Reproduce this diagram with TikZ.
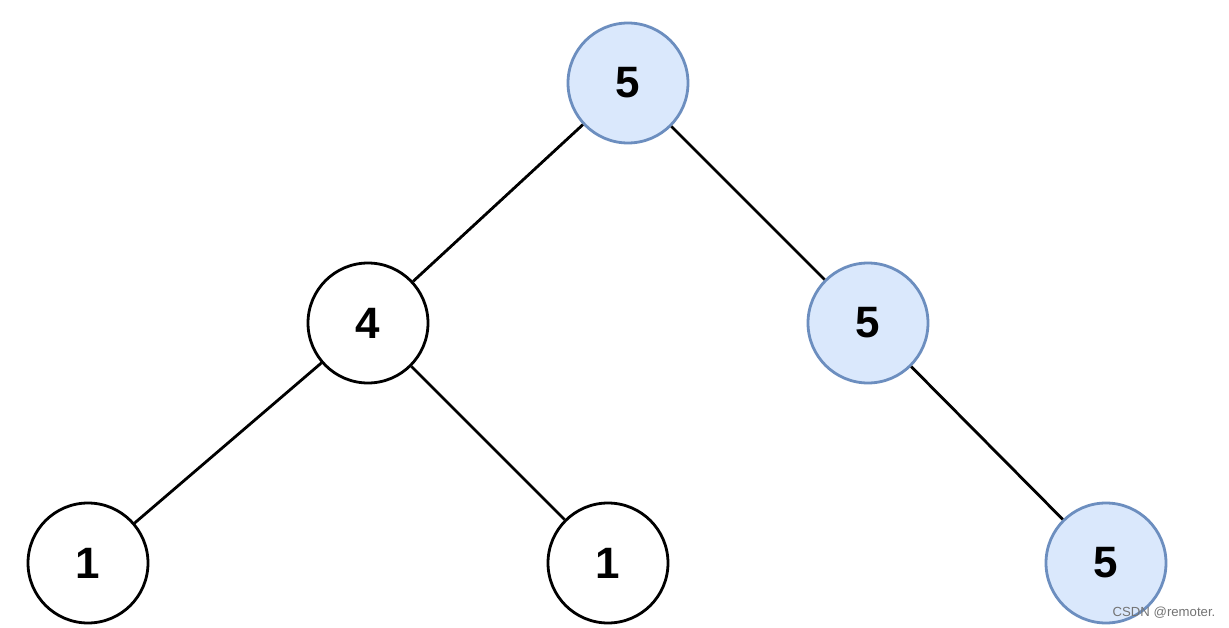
\documentclass[tikz,border=0pt]{standalone}
\usepackage{fontspec}
\setmainfont{Liberation Sans}
\definecolor{hlfill}{HTML}{DAE8FC}
\definecolor{hldraw}{HTML}{6C8EBF}
\begin{document}
\begin{tikzpicture}[line width=1.6pt,
  val/.style={circle, draw=black, fill=white, minimum size=2.4cm, inner sep=0pt, font=\fontsize{25}{25}\selectfont\bfseries},
  hl/.style={val, draw=hldraw, fill=hlfill},
  edge/.style={draw=black, line width=1.6pt}]
  \useasboundingbox (0,0) rectangle (24.58,-12.56);
  \node[hl]  (r)   at (12.56,-1.66)  {5};
  \node[val] (l)   at (7.36,-6.46)   {4};
  \node[hl]  (rr)  at (17.36,-6.46)  {5};
  \node[val] (ll)  at (1.76,-11.26)  {1};
  \node[val] (lr)  at (12.16,-11.26) {1};
  \node[hl]  (rrr) at (22.12,-11.26) {5};
  \draw[edge] (r) -- (l);
  \draw[edge] (r) -- (rr);
  \draw[edge] (l) -- (ll);
  \draw[edge] (l) -- (lr);
  \draw[edge] (rr) -- (rrr);
  % watermark
  \node[text=black!55, font=\fontsize{7.5}{7.5}\selectfont, inner sep=0pt] (wm) at (23.28,-12.25) {CSDN @remoter.};
\end{tikzpicture}
\end{document}
